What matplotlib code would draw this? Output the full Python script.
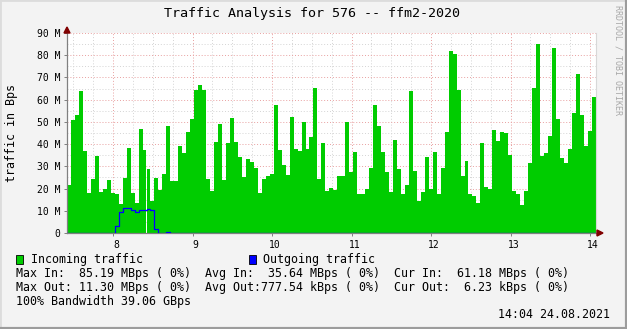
import matplotlib
matplotlib.use("Agg")
import matplotlib.pyplot as plt
import matplotlib.transforms as mtransforms
from matplotlib.patches import Rectangle, Polygon
import numpy as np

# incoming traffic per 3-minute step, in MBps
in_traffic = [
    21.6, 50.9, 53.2, 64.0, 37.0, 18.0, 24.3, 34.7, 18.5, 19.8,
    23.9, 18.0, 17.6, 13.1, 24.8, 38.3, 18.0, 13.5, 46.9, 37.4,
    28.8, 14.4, 24.8, 19.4, 26.6, 48.2, 23.4, 23.4, 39.2, 36.1,
    45.5, 51.4, 64.5, 66.7, 64.5, 24.3, 18.9, 41.0, 49.1, 23.9,
    40.6, 51.8, 41.0, 34.3, 25.2, 33.4, 32.0, 29.3, 18.0, 24.3,
    25.7, 26.6, 57.7, 37.4, 30.7, 26.1, 52.3, 37.9, 37.1, 50.1,
    38.0, 43.4, 65.4, 24.5, 40.7, 19.1, 20.4, 19.5, 25.8, 25.8,
    50.1, 27.6, 36.6, 17.7, 17.7, 19.9, 29.3, 57.7, 48.2, 36.5,
    27.5, 18.5, 41.9, 28.8, 17.6, 21.6, 64.0, 27.9, 14.4, 18.5,
    34.3, 19.8, 36.5, 17.6, 29.3, 45.5, 82.0, 80.7, 64.5, 25.7,
    32.5, 17.6, 16.7, 13.5, 40.6, 20.7, 19.8, 46.4, 41.5, 45.5,
    45.1, 35.2, 18.9, 17.6, 12.6, 19.1, 31.7, 65.4, 85.19, 34.8,
    36.2, 43.8, 83.4, 51.5, 33.9, 31.7, 38.0, 54.2, 71.7, 53.3,
    39.3, 46.1, 61.18,
]

# outgoing traffic, in MBps
out_traffic = [
    0.0, 0.0, 0.0, 0.0, 0.0, 0.0, 0.0, 0.0, 0.0, 0.0,
    0.0, 0.0, 3.0, 9.6, 11.1, 11.3, 10.5, 9.6, 10.2, 10.2,
    10.7, 10.2, 1.65, 0.0, 0.0, 0.45, 0.0, 0.0, 0.0, 0.0,
    0.0, 0.0, 0.0, 0.0, 0.0, 0.0, 0.0, 0.0, 0.0, 0.0,
    0.0, 0.0, 0.0, 0.0, 0.0, 0.0, 0.0, 0.0, 0.0, 0.0,
    0.0, 0.0, 0.0, 0.0, 0.0, 0.0, 0.0, 0.0, 0.0, 0.0,
    0.0, 0.0, 0.0, 0.0, 0.0, 0.0, 0.0, 0.0, 0.0, 0.0,
    0.0, 0.0, 0.0, 0.0, 0.0, 0.0, 0.0, 0.0, 0.0, 0.0,
    0.0, 0.0, 0.0, 0.0, 0.0, 0.0, 0.0, 0.0, 0.0, 0.0,
    0.0, 0.0, 0.0, 0.0, 0.0, 0.0, 0.0, 0.0, 0.0, 0.0,
    0.0, 0.0, 0.0, 0.0, 0.0, 0.0, 0.0, 0.0, 0.0, 0.0,
    0.0, 0.0, 0.0, 0.0, 0.0, 0.0, 0.0, 0.0, 0.0, 0.0,
    0.0, 0.0, 0.0, 0.0, 0.0, 0.0, 0.0, 0.0, 0.0, 0.0,
    0.0, 0.0, 0.00623,
]

start_hour = 7.42
step_hours = 0.05
hour_ticks = [8, 9, 10, 11, 12, 13, 14]
mb_ticks = [0, 10, 20, 30, 40, 50, 60, 70, 80, 90]
mb_labels = ["0", "10 M", "20 M", "30 M", "40 M", "50 M", "60 M", "70 M", "80 M", "90 M"]

title = "Traffic Analysis for 576 -- ffm2-2020"
stat_lines = [
    "Max In:  85.19 MBps ( 0%)  Avg In:  35.64 MBps ( 0%)  Cur In:  61.18 MBps ( 0%)",
    "Max Out: 11.30 MBps ( 0%)  Avg Out:777.54 kBps ( 0%)  Cur Out:  6.23 kBps ( 0%)",
    "100% Bandwidth 39.06 GBps",
]
stamp = "14:04 24.08.2021"

W, H = 627, 329
GREEN = "#00cc00"
BLUE = "#0000ff"
MONO = "DejaVu Sans Mono"


def fx(x):
    return x / W


def fy(y):
    return 1 - y / H


fig = plt.figure(figsize=(W / 100, H / 100), dpi=100, facecolor="#f3f3f3")
ax = fig.add_axes([fx(67), fy(233), fx(596 - 67), 200 / H])
ax.set_facecolor("white")

hours = start_hour + step_hours * np.arange(len(in_traffic))
ax.bar(hours, in_traffic, width=step_hours, align="edge", color=GREEN, linewidth=0, zorder=2)
edges = np.append(hours, hours[-1] + step_hours)
ax.step(edges, list(out_traffic) + [out_traffic[-1]], where="post", color=BLUE, lw=0.9, zorder=3)

ax.set_xlim(start_hour, start_hour + 529 / 79.5)
ax.set_ylim(0, 90)

# grid
dots = (0, (1, 2))
for v in np.arange(7.5, 14.1, 0.25):
    if v % 1 != 0:
        ax.axvline(v, color="#d4d4d4", lw=0.7, ls=dots, zorder=1)
for v in range(5, 90, 10):
    ax.axhline(v, color="#d4d4d4", lw=0.7, ls=dots, zorder=1)
for v in hour_ticks:
    ax.axvline(v, color="#e8a0a0", lw=0.7, ls=dots, zorder=1)
for v in mb_ticks[1:]:
    ax.axhline(v, color="#e8a0a0", lw=0.7, ls=dots, zorder=1)

for s in ["top"]:
    ax.spines[s].set_visible(False)
ax.spines["right"].set_color("#d8d8d8")
ax.spines["right"].set_linewidth(0.8)
ax.spines["left"].set_color("#808080")
ax.spines["bottom"].set_color("#808080")
ax.spines["left"].set_linewidth(0.9)
ax.spines["bottom"].set_linewidth(0.9)

ax.set_xticks(hour_ticks)
ax.set_xticklabels([str(h) for h in hour_ticks], fontfamily=MONO, fontsize=7)
ax.set_yticks(mb_ticks)
ax.set_yticklabels(mb_labels, fontfamily=MONO, fontsize=7)
ax.tick_params(axis="both", length=2, width=0.7, color="#808080", pad=3)
off = mtransforms.ScaledTranslation(3 / 100, 0, fig.dpi_scale_trans)
for lbl in ax.get_xticklabels():
    lbl.set_transform(lbl.get_transform() + off)

# axis arrows
fig.patches.append(Polygon([[fx(64), fy(33)], [fx(70), fy(33)], [fx(67), fy(27)]],
                           closed=True, transform=fig.transFigure, color="#800000", zorder=5))
fig.patches.append(Polygon([[fx(597), fy(230)], [fx(597), fy(236)], [fx(603), fy(233)]],
                           closed=True, transform=fig.transFigure, color="#800000", zorder=5))
fig.add_artist(plt.Line2D([fx(596), fx(598)], [fy(233), fy(233)], color="#808080", lw=0.9,
                          transform=fig.transFigure))

# texts
fig.text(fx(312), fy(13), title, ha="center", va="center", fontfamily=MONO, fontsize=9.6, color="#000000")
fig.text(fx(12), fy(133), "traffic in Bps", rotation=90, ha="center", va="center",
         fontfamily=MONO, fontsize=8.4)
fig.text(fx(618), fy(5), "RRDTOOL / TOBI OETIKER", rotation=270, ha="center", va="top",
         fontfamily=MONO, fontsize=6, color="#a8a8a8")

# legend
fig.patches.append(Rectangle((fx(16), fy(264)), fx(7), 9 / H, transform=fig.transFigure,
                             facecolor=GREEN, edgecolor="black", lw=0.6))
fig.text(fx(31), fy(259), "Incoming traffic", ha="left", va="center", fontfamily=MONO, fontsize=8.4)
fig.patches.append(Rectangle((fx(249), fy(264)), fx(7), 9 / H, transform=fig.transFigure,
                             facecolor=BLUE, edgecolor="black", lw=0.6))
fig.text(fx(263), fy(259), "Outgoing traffic", ha="left", va="center", fontfamily=MONO, fontsize=8.4)

for i, line in enumerate(stat_lines):
    fig.text(fx(16), fy(273 + 14 * i), line, ha="left", va="center", fontfamily=MONO, fontsize=8.4)
fig.text(fx(610), fy(315), stamp, ha="right", va="center", fontfamily=MONO, fontsize=8.4)

# frame around the image
fig.add_artist(plt.Line2D([0, 0, 1], [0, 1, 1], color="#dcdcdc", lw=2, transform=fig.transFigure))
fig.add_artist(plt.Line2D([0, 1, 1], [0, 0, 1], color="#9c9c9c", lw=3, transform=fig.transFigure))

fig.savefig("out.png", dpi=100, facecolor=fig.get_facecolor())
